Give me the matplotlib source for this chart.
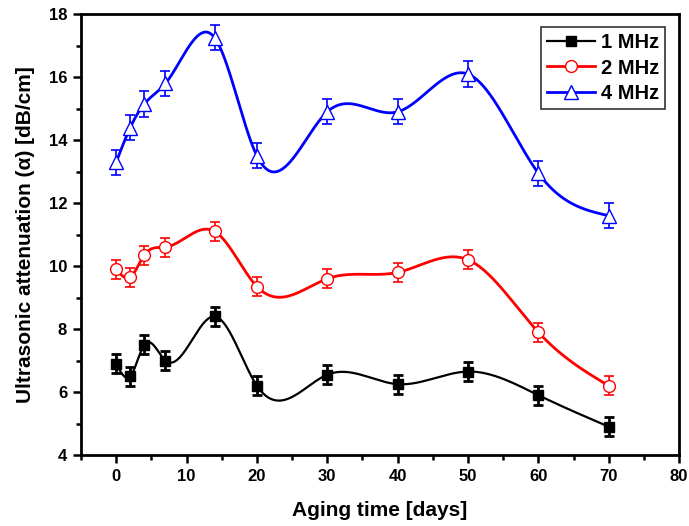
import numpy as np
import matplotlib
matplotlib.use("Agg")
import matplotlib.pyplot as plt
from matplotlib.ticker import MultipleLocator

plt.rcParams["font.family"] = ["Liberation Sans", "DejaVu Sans"]
plt.rcParams["font.weight"] = "bold"

days = [0, 2, 4, 7, 14, 20, 30, 40, 50, 60, 70]
alpha_1mhz = [6.9, 6.5, 7.5, 7.0, 8.4, 6.2, 6.55, 6.25, 6.65, 5.9, 4.9]
alpha_2mhz = [9.9, 9.65, 10.35, 10.6, 11.1, 9.35, 9.6, 9.8, 10.2, 7.9, 6.2]
alpha_4mhz = [13.3, 14.4, 15.15, 15.8, 17.25, 13.5, 14.9, 14.9, 16.1, 12.95, 11.6]
err_1mhz = [0.3] * 11
err_2mhz = [0.3] * 11
err_4mhz = [0.4] * 11


def natural_spline(x, y, n=600):
    """Natural cubic spline through (x, y), sampled on n points."""
    x = np.asarray(x, float)
    y = np.asarray(y, float)
    k = len(x)
    h = np.diff(x)
    a = np.zeros((k, k))
    b = np.zeros(k)
    a[0, 0] = a[-1, -1] = 1.0
    for i in range(1, k - 1):
        a[i, i - 1] = h[i - 1]
        a[i, i] = 2 * (h[i - 1] + h[i])
        a[i, i + 1] = h[i]
        b[i] = 6 * ((y[i + 1] - y[i]) / h[i] - (y[i] - y[i - 1]) / h[i - 1])
    m = np.linalg.solve(a, b)
    xs = np.linspace(x[0], x[-1], n)
    idx = np.clip(np.searchsorted(x, xs) - 1, 0, k - 2)
    x0, x1 = x[idx], x[idx + 1]
    hh = x1 - x0
    t0, t1 = x1 - xs, xs - x0
    ys = (m[idx] * t0 ** 3 + m[idx + 1] * t1 ** 3) / (6 * hh) \
        + (y[idx] / hh - m[idx] * hh / 6) * t0 \
        + (y[idx + 1] / hh - m[idx + 1] * hh / 6) * t1
    return xs, ys


fig = plt.figure(figsize=(6.89, 5.26), dpi=100)
ax = fig.add_axes([0.1176, 0.135, 0.868, 0.838])

series = [
    (alpha_1mhz, err_1mhz, "black", "s", "black", "1 MHz", 1.6, 7.5, 2.0),
    (alpha_2mhz, err_2mhz, "red", "o", "white", "2 MHz", 2.0, 8.5, 1.2),
    (alpha_4mhz, err_4mhz, "blue", "^", "white", "4 MHz", 2.0, 9.5, 1.2),
]
handles = []
for vals, err, color, marker, face, label, lw, ms, ew in series:
    xs, ys = natural_spline(days, vals)
    ax.plot(xs, ys, color=color, lw=lw, zorder=2)
    ax.errorbar(days, vals, yerr=err, fmt="none", ecolor=color,
                elinewidth=ew, capsize=3.8, capthick=ew, zorder=3)
    ax.plot(days, vals, ls="none", marker=marker, ms=ms, mfc=face,
            mec=color, mew=1.0, zorder=4)
    h, = ax.plot([], [], color=color, lw=lw, marker=marker, ms=ms,
                 mfc=face, mec=color, mew=1.0)
    handles.append((h, label))

ax.set_xlim(-5, 80)
ax.set_ylim(4, 18)
ax.xaxis.set_major_locator(MultipleLocator(10))
ax.xaxis.set_minor_locator(MultipleLocator(5))
ax.yaxis.set_major_locator(MultipleLocator(2))
ax.yaxis.set_minor_locator(MultipleLocator(1))
ax.tick_params(which="both", direction="out", width=1.8, labelsize=12,
               top=False, right=False)
ax.tick_params(which="major", length=6, pad=4)
ax.tick_params(which="minor", length=3.5)
for lab in ax.get_xticklabels() + ax.get_yticklabels():
    lab.set_fontweight("bold")
for sp in ax.spines.values():
    sp.set_linewidth(2)

ax.set_xlabel("Aging time [days]", fontsize=15, fontweight="bold", labelpad=12)
ax.set_ylabel("Ultrasonic attenuation (α) [dB/cm]", fontsize=15,
              fontweight="bold", labelpad=10)

leg = ax.legend([h for h, _ in handles], [l for _, l in handles],
                loc="upper right", bbox_to_anchor=(0.977, 0.970),
                fontsize=14.5, frameon=True, fancybox=False,
                edgecolor="black", handlelength=2.4, borderpad=0.3,
                labelspacing=0.3, handletextpad=0.3, borderaxespad=0)
leg.get_frame().set_linewidth(1.2)
for t in leg.get_texts():
    t.set_fontweight("bold")

fig.savefig("out.png", dpi=100)
